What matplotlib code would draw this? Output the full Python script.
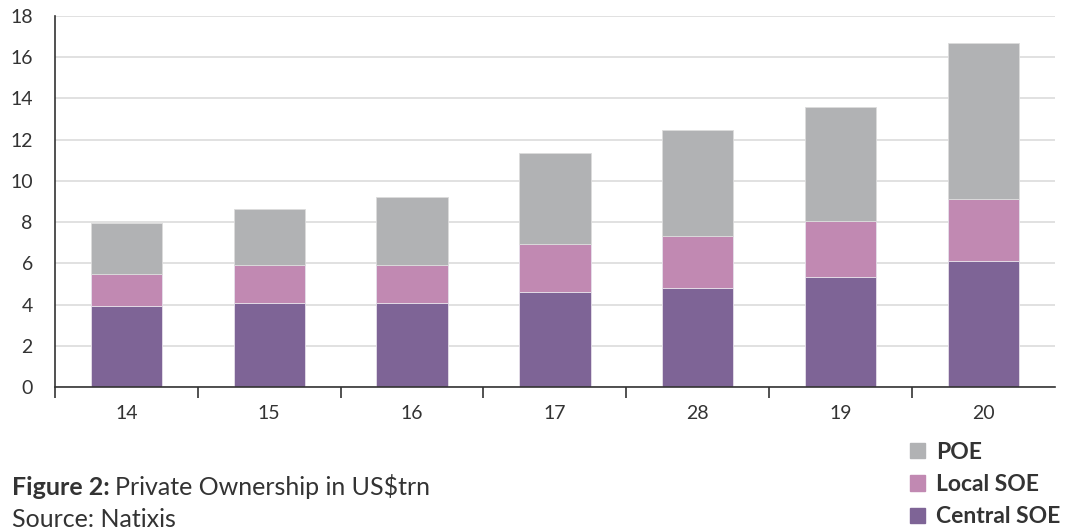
import numpy as np
import matplotlib.pyplot as plt
from matplotlib.patches import Patch

plt.rcParams['font.family'] = ['Lato', 'DejaVu Sans']

# data (US$trn)
years = ["14", "15", "16", "17", "28", "19", "20"]
central_soe = [3.93, 4.08, 4.08, 4.63, 4.79, 5.35, 6.13]
local_soe = [1.56, 1.82, 1.82, 2.30, 2.54, 2.69, 3.01]
poe = [2.49, 2.76, 3.31, 4.43, 5.15, 5.54, 7.54]

c_central = "#7e6496"
c_local = "#c189b2"
c_poe = "#b1b2b4"
txt = "#333333"

fig = plt.figure(figsize=(10.68, 5.31), dpi=100)
ax = fig.add_axes([0.0515, 0.271, 0.936, 0.699])

x = np.arange(len(years))
bottom2 = np.array(central_soe) + np.array(local_soe)
ax.bar(x, central_soe, width=0.5, color=c_central, edgecolor="#e6e0ea", linewidth=0.6, zorder=3)
ax.bar(x, local_soe, width=0.5, bottom=central_soe, color=c_local, edgecolor="#e6e0ea", linewidth=0.6, zorder=3)
ax.bar(x, poe, width=0.5, bottom=bottom2, color=c_poe, edgecolor="#dcdcdc", linewidth=0.6, zorder=3)

ax.set_xlim(-0.5, len(years) - 0.5)
ax.set_ylim(0, 18)
ax.set_yticks(np.arange(0, 19, 2))
ax.grid(axis="y", color="#dedede", linewidth=1.3, zorder=0)
ax.tick_params(axis="y", length=0, labelsize=14, pad=16, labelcolor=txt)

ax.set_xticks(np.arange(-0.5, len(years) - 0.5, 1))
ax.set_xticklabels([])
ax.set_xticks(x, minor=True)
ax.set_xticklabels(years, minor=True)
ax.tick_params(axis="x", which="major", length=8, width=1.2, color=txt, direction="out")
ax.tick_params(axis="x", which="minor", length=0, labelsize=14, pad=13, labelcolor=txt)

for s in ["top", "right"]:
    ax.spines[s].set_visible(False)
for s in ["left", "bottom"]:
    ax.spines[s].set_color(txt)
    ax.spines[s].set_linewidth(1.2)
    ax.spines[s].set_zorder(4)

# caption: bold part then normal part right after it
t1 = fig.text(0.011, 0.068, "Figure 2:", fontsize=18, fontweight="bold", color=txt)
fig.canvas.draw()
bb = t1.get_window_extent()
fig.text(bb.x1 / fig.bbox.width + 0.005, 0.068, "Private Ownership in US$trn", fontsize=18, color=txt)
fig.text(0.011, 0.008, "Source: Natixis", fontsize=18, color=txt)

handles = [Patch(color=c_poe, label="POE"),
           Patch(color=c_local, label="Local SOE"),
           Patch(color=c_central, label="Central SOE")]
leg = fig.legend(handles=handles, loc="upper left", bbox_to_anchor=(0.841, 0.19),
                 frameon=False, borderpad=0, handlelength=0.66, handleheight=0.66,
                 handletextpad=0.5, labelspacing=0.5, prop={"size": 16.5, "weight": "bold"})
for t in leg.get_texts():
    t.set_color(txt)

fig.savefig("out.png", dpi=100)
